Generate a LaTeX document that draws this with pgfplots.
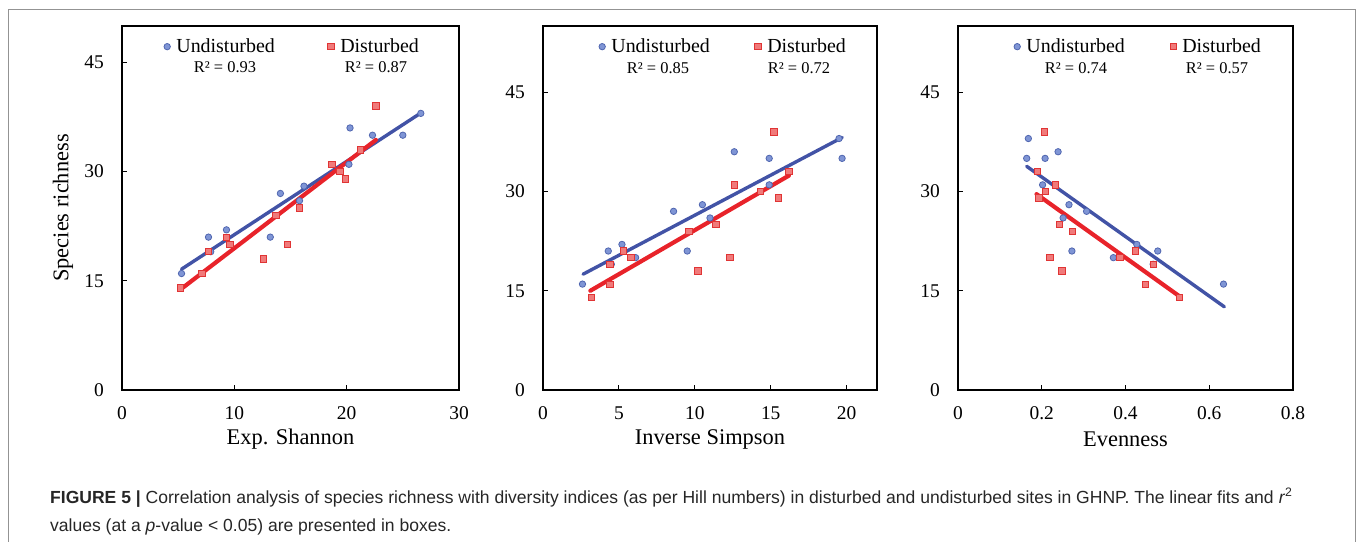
\documentclass[border=0pt]{standalone}
\usepackage{fontspec}
\setmainfont{Liberation Serif}
\newfontfamily\capfont{Liberation Sans}
\usepackage{pgfplots}
\pgfplotsset{compat=1.18}

\definecolor{ublue}{HTML}{7F95D5}
\definecolor{ubluedge}{HTML}{5066B0}
\definecolor{ublueline}{HTML}{4253A6}
\definecolor{dred}{HTML}{F07A7A}
\definecolor{dredge}{HTML}{E03434}
\definecolor{dredline}{HTML}{E8232A}

\tikzset{rr/.style={anchor=base, font=\fontsize{16.5}{18}\selectfont}}

\pgfplotsset{
  base/.style={
    scale only axis, height=364bp, anchor=south west,
    ymin=0, ytick={0,15,30,45},
    axis line style={line width=1.6bp},
    tick style={line width=1bp, black},
    major tick length=5bp,
    tick align=inside,
    xtick pos=bottom, ytick pos=left,
    ticklabel style={font=\fontsize{19.5}{22}\selectfont},
    /pgf/number format/assume math mode=true,
    xticklabel style={anchor=center, inner sep=0pt, yshift=-23bp},
    yticklabel style={anchor=east, inner sep=0pt, xshift=-18bp},
    every axis x label/.style={at={(rel axis cs:0.5,0)}, anchor=center, yshift=-49bp, font=\fontsize{22.5}{26}\selectfont},
    every axis y label/.style={at={(rel axis cs:0,0.5)}, anchor=center, rotate=90, yshift=59bp, font=\fontsize{22.5}{26}\selectfont},
    legend style={draw=none, fill=none, inner sep=0pt, outer sep=0pt,
      font=\fontsize{20}{22}\selectfont, legend columns=2, anchor=north west,
      nodes={inner sep=0pt},
      /tikz/every odd column/.append style={column sep=6bp}},
  },
  ups/.style={only marks, mark=*, mark size=3.2bp, draw=ubluedge, fill=ublue,
    mark options={line width=0.8bp, draw=ubluedge, fill=ublue},
    legend image code/.code={\draw[##1] plot coordinates {(3bp,0bp)};}},
  dis/.style={only marks, mark=square*, mark size=3.2bp, draw=dredge, fill=dred,
    mark options={line width=0.8bp, draw=dredge, fill=dred},
    legend image code/.code={\draw[##1] plot coordinates {(3bp,0bp)};}},
  uline/.style={no marks, ublueline, line width=3.4bp, line cap=round, forget plot},
  dline/.style={no marks, dredline, line width=4.2bp, line cap=round, forget plot},
}

\begin{document}
\begin{tikzpicture}
\path[use as bounding box] (0,0) rectangle (1358bp,-542bp);
\draw[gray!85, line width=1bp] (8bp,-542bp) -- (8bp,-9bp) -- (1355bp,-9bp) -- (1355bp,-542bp);

% ---------- Panel 1 ----------
\begin{axis}[base, at={(122bp,-390bp)}, width=337bp,
  xmin=0, xmax=30, xtick={0,10,20,30}, ymax=50,
  xlabel={Exp. Shannon}, ylabel={Species richness},
  legend style={at={(0.1246,0.9643)}, /tikz/every even column/.append style={column sep=53bp}}]
\addplot[ups] coordinates {(5.3,16) (7.7,21) (7.9,19) (9.3,22) (9.6,20) (13.2,21) (14.1,27) (15.8,26) (16.2,28) (20.2,31) (20.3,36) (22.3,35) (25.0,35) (26.6,38)};
\addlegendentry{Undisturbed}
\addplot[dis] coordinates {(5.2,14) (7.1,16) (7.7,19) (9.3,21) (9.6,20) (12.6,18) (13.7,24) (14.7,20) (15.8,25) (18.7,31) (19.4,30) (19.9,29) (21.2,33) (22.6,39)};
\addlegendentry{Disturbed}
\addplot[uline] coordinates {(5.3,16.6) (26.6,38.05)};
\addplot[dline] coordinates {(5.2,13.8) (22.6,34.35)};
\node[rr] at (rel axis cs:0.3056,0.8709) {R² = 0.93};
\node[rr] at (rel axis cs:0.7537,0.8709) {R² = 0.87};
\end{axis}

% ---------- Panel 2 ----------
\begin{axis}[base, at={(543bp,-390bp)}, width=334bp,
  xmin=0, xmax=22, xtick={0,5,10,15,20}, ymax=55,
  xlabel={Inverse Simpson},
  legend style={at={(0.1676,0.9643)}, /tikz/every even column/.append style={column sep=45bp}}]
\addplot[ups] coordinates {(2.6,16) (4.3,21) (4.5,19) (5.2,22) (6.1,20) (8.6,27) (9.5,21) (10.5,28) (11.0,26) (12.6,36) (14.9,35) (14.9,31) (19.5,38) (19.7,35)};
\addlegendentry{Undisturbed}
\addplot[dis] coordinates {(3.2,14) (4.4,16) (4.4,19) (5.3,21) (5.8,20) (9.6,24) (10.2,18) (11.4,25) (12.3,20) (12.6,31) (14.3,30) (15.2,39) (15.5,29) (16.2,33)};
\addlegendentry{Disturbed}
\addplot[uline] coordinates {(2.64,17.5) (19.71,38.16)};
\addplot[dline] coordinates {(3.12,15.0) (16.2,32.4)};
\node[rr] at (rel axis cs:0.3443,0.8709) {R² = 0.85};
\node[rr] at (rel axis cs:0.7665,0.8709) {R² = 0.72};
\end{axis}

% ---------- Panel 3 ----------
\begin{axis}[base, at={(958bp,-390bp)}, width=335bp,
  xmin=0, xmax=0.8, xtick={0,0.2,0.4,0.6,0.8}, ymax=55,
  xticklabel={\pgfmathprintnumber[fixed,precision=1]{\tick}},
  xlabel={Evenness},
  legend style={at={(0.1672,0.9643)}, /tikz/every even column/.append style={column sep=45bp}}]
\addplot[ups] coordinates {(0.164,35) (0.168,38) (0.208,35) (0.202,31) (0.239,36) (0.251,26) (0.265,28) (0.272,21) (0.307,27) (0.371,20) (0.427,22) (0.466,19) (0.477,21) (0.634,16)};
\addlegendentry{Undisturbed}
\addplot[dis] coordinates {(0.189,33) (0.193,29) (0.206,39) (0.208,30) (0.233,31) (0.219,20) (0.242,25) (0.248,18) (0.2725,24) (0.387,20) (0.423,21) (0.448,16) (0.466,19) (0.528,14)};
\addlegendentry{Disturbed}
\addplot[uline] coordinates {(0.164,33.8) (0.636,12.57)};
\addplot[dline] coordinates {(0.1875,29.6) (0.528,14.2)};
\node[rr] at (rel axis cs:0.3522,0.8709) {R² = 0.74};
\node[rr] at (rel axis cs:0.7731,0.8709) {R² = 0.57};
\end{axis}

% ---------- Caption ----------
\node[anchor=base west, inner sep=0pt, font=\capfont\fontsize{17.6}{20}\selectfont, text=black!85] at (50bp,-503bp)
  {\textbf{FIGURE 5 |} Correlation analysis of species richness with diversity indices (as per Hill numbers) in disturbed and undisturbed sites in GHNP. The linear fits and \textit{r}\textsuperscript{2}};
\node[anchor=base west, inner sep=0pt, font=\capfont\fontsize{17.6}{20}\selectfont, text=black!85] at (50bp,-531bp)
  {values (at a \textit{p}-value < 0.05) are presented in boxes.};
\end{tikzpicture}
\end{document}
